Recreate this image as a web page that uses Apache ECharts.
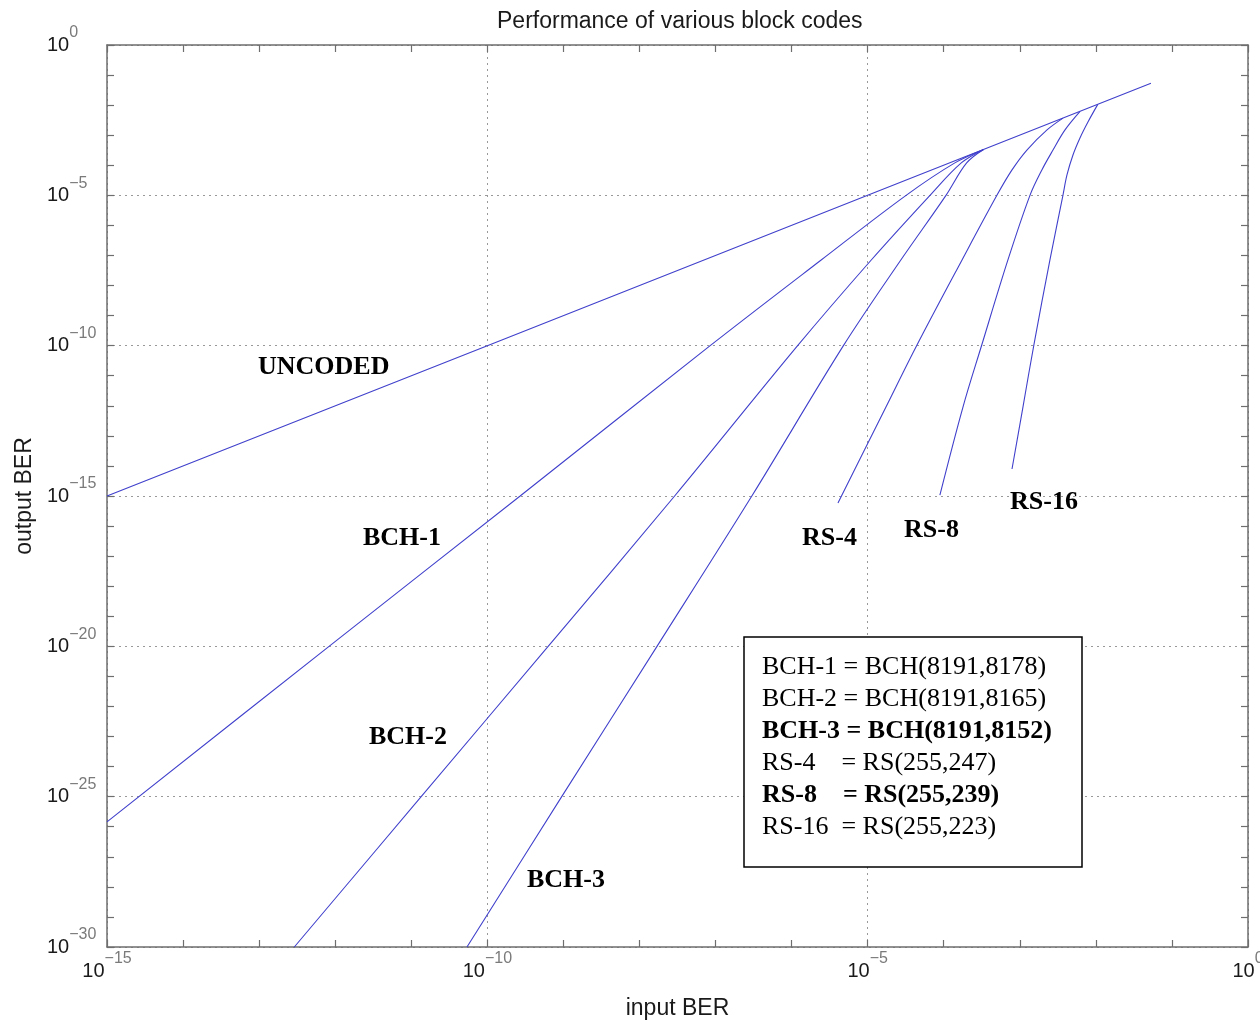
<!DOCTYPE html>
<html>
<head>
<meta charset="utf-8">
<script src="https://cdn.jsdelivr.net/npm/echarts@6/dist/echarts.min.js"></script>
<style>
  html, body { margin: 0; padding: 0; background: #fff; }
  #chart { width: 1260px; height: 1023px; }
</style>
</head>
<body>
<div id="chart"></div>
<script>
// input BER / output BER pairs
var uncoded = [[1e-15, 1e-15], [1e-10, 1e-10], [1e-5, 1e-5], [5.3e-2, 5.3e-2]];
var bch1 = [[1e-15, 1.45e-26], [8.3e-13, 1e-20], [2.7e-10, 1e-15], [8.5e-8, 1e-10],
            [2.4e-6, 6.8e-8], [3.2e-5, 1e-5], [1.4e-4, 1.2e-4], [3.3e-4, 3.3e-4]];
var bch2 = [[2.9e-13, 1e-30], [1.35e-11, 1e-25], [6.3e-10, 1e-20], [2.9e-8, 1e-15],
            [1.2e-6, 1e-10], [1.1e-5, 6.8e-8], [6.6e-5, 1e-5], [1.7e-4, 1.2e-4], [3.3e-4, 3.3e-4]];
var bch3 = [[5.4e-11, 1e-30], [9.5e-10, 1e-25], [1.7e-8, 1e-20], [3.0e-7, 1e-15],
            [4.8e-6, 1e-10], [2.7e-5, 6.8e-8], [1.07e-4, 1e-5], [2.0e-4, 1.2e-4], [3.3e-4, 3.3e-4]];
var rs4 = [[4.07e-6, 5.9e-16], [1.74e-5, 9.1e-13], [4.45e-5, 1.05e-10], [1.74e-4, 7.1e-8],
           [5.0e-4, 1e-5], [7.9e-4, 7e-5], [1.24e-3, 3.2e-4], [2.28e-3, 1.5e-3], [3.7e-3, 3.7e-3]];
var rs8 = [[8.9e-5, 1.07e-15], [1.79e-4, 9.1e-13], [3.16e-4, 1.05e-10], [6.98e-4, 7.1e-8],
           [1.36e-3, 1e-5], [1.95e-3, 7e-5], [2.73e-3, 3.2e-4], [3.93e-3, 1.5e-3], [6.2e-3, 6.2e-3]];
var rs16 = [[7.9e-4, 7.9e-15], [1.1e-3, 9.1e-13], [1.53e-3, 1.05e-10], [2.49e-3, 7.1e-8],
            [3.69e-3, 1e-5], [4.17e-3, 4.75e-5], [5.0e-3, 2.2e-4], [6.18e-3, 8.1e-4],
            [7.87e-3, 2.75e-3], [1.06e-2, 1.06e-2]];

// decade exponents for the axes
var xExp = [-15, 0];
var yExp = [-30, 0];

var curveNames = ['UNCODED', 'BCH-1', 'BCH-2', 'BCH-3', 'RS-4', 'RS-8', 'RS-16'];
var curves = [uncoded, bch1, bch2, bch3, rs4, rs8, rs16];

var legendLines = [
    ['BCH-1 = BCH(8191,8178)', false],
    ['BCH-2 = BCH(8191,8165)', false],
    ['BCH-3 = BCH(8191,8152)', true],
    ['RS-4    = RS(255,247)', false],
    ['RS-8    = RS(255,239)', true],
    ['RS-16  = RS(255,223)', false]
];

var curveLabels = [
    ['UNCODED', 258, 367],
    ['BCH-1', 363, 538],
    ['BCH-2', 369, 737],
    ['BCH-3', 527, 880],
    ['RS-4', 802, 538],
    ['RS-8', 904, 530],
    ['RS-16', 1010, 502]
];

function toLog(pts){
    return pts.map(function(p){ return [Math.log10(p[0]), Math.log10(p[1])]; });
}

function powLabel(v){
    var e = Math.round(v);
    return '{b|10}{s|' + (e < 0 ? '\u2212' + (-e) : e) + '}';
}

var sans = '"Liberation Sans", Arial, sans-serif';
var serif = '"Liberation Serif", "Times New Roman", serif';
var frame = '#6e6e6e';

var baseRich = { fontSize: 20, fontFamily: sans, color: '#1a1a1a' };
var supRich = { fontSize: 16, fontFamily: sans, color: '#7a7a7a', padding: [0, 0, 24, 0] };

var myChart = echarts.init(document.getElementById('chart'));

var series = curves.map(function(c, i){
    return {
        name: curveNames[i],
        type: 'line',
        xAxisIndex: 0,
        yAxisIndex: 0,
        data: toLog(c),
        smooth: i === 0 ? false : 0.35,
        showSymbol: false,
        symbol: 'none',
        lineStyle: { color: '#4040cc', width: 1.1 },
        itemStyle: { color: '#4040cc' },
        z: 3
    };
});

var graphics = [{
    type: 'rect',
    shape: { x: 744, y: 637, width: 338, height: 230 },
    style: { fill: '#fff', stroke: '#000', lineWidth: 1.5 },
    z: 10
}];
legendLines.forEach(function(l, i){
    graphics.push({
        type: 'text',
        x: 762,
        y: 667 + i * 32,
        z: 11,
        style: {
            text: l[0],
            fontFamily: serif,
            fontSize: 26,
            fontWeight: l[1] ? 'bold' : 'normal',
            fill: '#000',
            verticalAlign: 'middle'
        }
    });
});
curveLabels.forEach(function(l){
    graphics.push({
        type: 'text',
        x: l[1],
        y: l[2],
        z: 11,
        style: {
            text: l[0],
            fontFamily: serif,
            fontSize: 26,
            fontWeight: 'bold',
            fill: '#000',
            verticalAlign: 'middle'
        }
    });
});

function axisCommon(extra){
    var a = {
        type: 'value',
        interval: 5,
        axisLine: { show: true, onZero: false, lineStyle: { color: frame, width: 1.5 } },
        axisTick: { show: true, inside: true, length: 7, lineStyle: { color: frame, width: 1.2 } },
        minorTick: { show: true, splitNumber: 5, length: 7, lineStyle: { color: frame, width: 1.2 } },
        splitLine: { show: false },
        minorSplitLine: { show: false }
    };
    for (var k in extra) a[k] = extra[k];
    return a;
}

var option = {
    animation: false,
    backgroundColor: '#fff',
    title: {
        text: 'Performance of various block codes',
        left: 492,
        top: 5,
        textStyle: { fontFamily: sans, fontSize: 23, fontWeight: 'normal', color: '#1a1a1a' }
    },
    grid: { left: 107, right: 12, top: 45, bottom: 76, containLabel: false, outerBoundsMode: 'none' },
    xAxis: [
        axisCommon({
            min: xExp[0], max: xExp[1], position: 'bottom',
            name: 'input BER', nameLocation: 'middle', nameGap: 50,
            nameTextStyle: { fontFamily: sans, fontSize: 23, color: '#1a1a1a' },
            splitLine: { show: true, lineStyle: { color: '#999', type: [2, 4], width: 1 } },
            axisLabel: {
                margin: 4,
                align: 'center',
                formatter: powLabel,
                rich: { b: baseRich, s: supRich }
            }
        }),
        axisCommon({
            min: xExp[0], max: xExp[1], position: 'top',
            axisLabel: { show: false }
        })
    ],
    yAxis: [
        axisCommon({
            min: yExp[0], max: yExp[1], position: 'left',
            name: 'output BER', nameLocation: 'middle', nameGap: 64,
            nameTextStyle: { fontFamily: sans, fontSize: 23, color: '#1a1a1a' },
            splitLine: { show: true, lineStyle: { color: '#999', type: [2, 4], width: 1 } },
            axisLabel: {
                margin: 60,
                align: 'left',
                formatter: powLabel,
                rich: { b: baseRich, s: supRich }
            }
        }),
        axisCommon({
            min: yExp[0], max: yExp[1], position: 'right',
            axisLabel: { show: false }
        })
    ],
    series: series,
    graphic: graphics
};

myChart.setOption(option);
</script>
</body>
</html>
